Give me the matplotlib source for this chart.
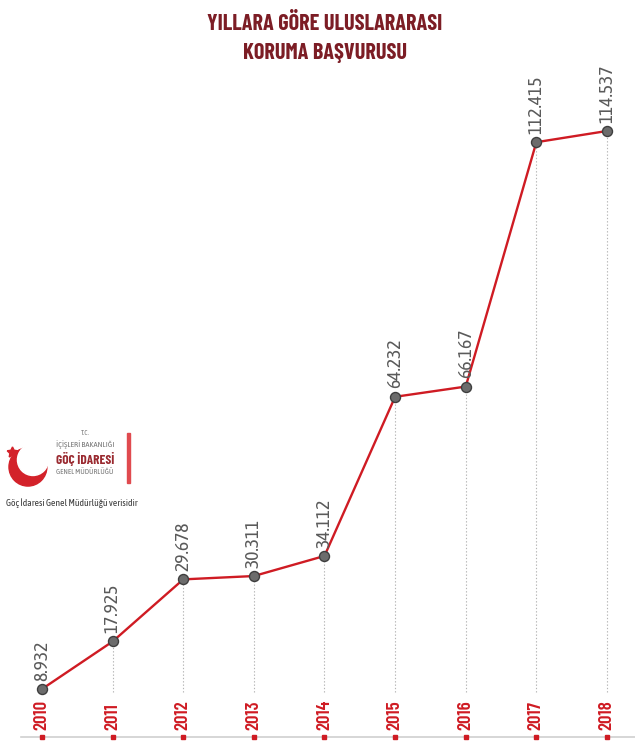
import matplotlib
matplotlib.use('Agg')
import matplotlib.pyplot as plt
from matplotlib import font_manager
from matplotlib.patches import Circle, Rectangle

# yıllara göre uluslararası koruma başvurusu
years = [2010, 2011, 2012, 2013, 2014, 2015, 2016, 2017, 2018]
applications = [8932, 17925, 29678, 30311, 34112, 64232, 66167, 112415, 114537]

TITLE = 'YILLARA GÖRE ULUSLARARASI\nKORUMA BAŞVURUSU'
SOURCE = 'Göç İdaresi Genel Müdürlüğü verisidir'

names = {f.name for f in font_manager.fontManager.ttflist}


def pick(*cands):
    for c in cands:
        if c in names:
            return c
    return 'DejaVu Sans'


HEAD = pick('Barlow Condensed', 'Liberation Sans Narrow')
BODY = pick('Asap Condensed', 'Archivo Narrow', 'Liberation Sans Narrow')

RED = '#cf1b23'
DARK_RED = '#7c1d25'
GRAY = '#5a5a5a'


def tr_fmt(v):
    return f'{v:,}'.replace(',', '.')


fig = plt.figure(figsize=(6.35, 7.42), dpi=100)
ax = fig.add_axes([0, 0, 1, 1])
ax.axis('off')
ax.set_xlim(2009.405, 2018.397)
ax.set_ylim(-1098, 139326)

ymin, ymax = ax.get_ylim()
guide_bottom = ymin + (ymax - ymin) * 0.068

# dotted guides from each point down to the year label
ax.vlines(years, guide_bottom, applications, colors='#b5b5b5',
          linestyles=(0, (1.2, 1.8)), linewidth=0.8, zorder=1)

ax.plot(years, applications, color=RED, lw=1.7, zorder=2)
ax.plot(years, applications, 'o', ms=7.2, mfc='#6c6c6c', mec='#3e3e3e',
        mew=1.0, zorder=3)

for yr, val in zip(years, applications):
    ax.annotate(tr_fmt(val), (yr, val), xytext=(0, 6), textcoords='offset points',
                rotation=90, ha='center', va='bottom', fontsize=14,
                family=BODY, fontstretch='condensed', color=GRAY, zorder=4)

# bottom baseline with year ticks
xt = ax.get_xaxis_transform()
ax.plot([2009.7, 2018.397], [0.0067, 0.0067], transform=xt, color='#d0d0d0',
        lw=1.2, zorder=1, clip_on=False)
ax.plot(years, [0.0067] * len(years), 's', transform=xt, ms=3, color=RED,
        zorder=2, clip_on=False)
for yr in years:
    ax.text(yr, 0.0165, str(yr), transform=xt, rotation=90, ha='center',
            va='bottom', fontsize=13.5, fontweight='semibold', family=HEAD,
            fontstretch='condensed', color=RED)

fig.text(0.512, 0.982, TITLE, ha='center', va='top', fontsize=16,
         fontweight='bold', family=HEAD, fontstretch='condensed',
         color=DARK_RED, linespacing=1.55)

# logo (crescent + star) and institution name
lg = fig.add_axes([0.0, 0.33, 0.22, 0.095])
lg.set_xlim(0, 140)
lg.set_ylim(0, 70)
lg.axis('off')
lg.add_patch(Circle((28, 30), 19, color='#d3222a'))
lg.add_patch(Circle((33, 37), 15.5, color='white'))
lg.plot([12], [45], marker=(5, 1, 0), ms=8, color='#d3222a')
lg.add_patch(Rectangle((127, 14), 3, 50, color='#e04a4f'))
lg.text(85, 64, 'T.C.', ha='center', va='center', fontsize=5, family=BODY, color='#777777')
lg.text(85, 52, 'İÇİŞLERİ BAKANLIĞI', ha='center', va='center', fontsize=6,
        family=BODY, color='#777777')
lg.text(85, 38, 'GÖÇ İDARESİ', ha='center', va='center', fontsize=9.5,
        fontweight='bold', family=HEAD, color='#9a2a30')
lg.text(85, 25, 'GENEL MÜDÜRLÜĞÜ', ha='center', va='center', fontsize=5.5,
        family=BODY, color='#777777')

fig.text(0.01, 0.322, SOURCE, ha='left', va='center', fontsize=6.9,
         family=BODY, color='#3a3a3a')

fig.savefig('out.png', dpi=100)
